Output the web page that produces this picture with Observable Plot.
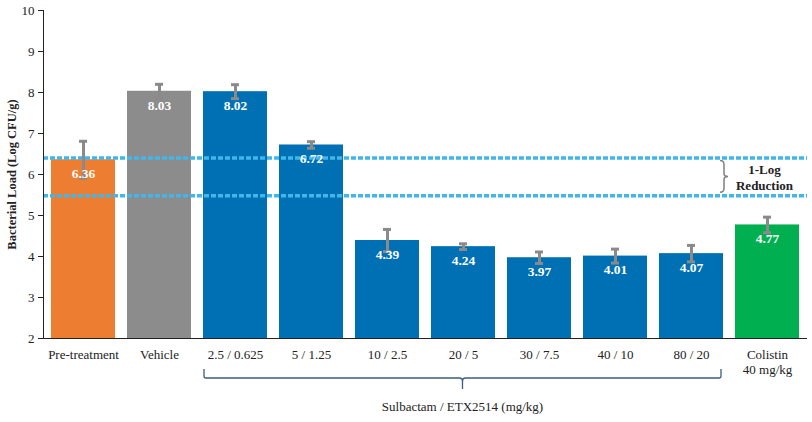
<!DOCTYPE html>
<html><head><meta charset="utf-8">
<script src="https://cdn.jsdelivr.net/npm/d3@7"></script>
<script src="https://cdn.jsdelivr.net/npm/@observablehq/plot@0.6"></script>
<style>body{margin:0;background:#fff} svg text{font-family:'Liberation Serif','Times New Roman',serif;}</style>
</head><body><div id="chart"></div>
<script>
const categories = ["Pre-treatment","Vehicle","2.5 / 0.625","5 / 1.25","10 / 2.5","20 / 5","30 / 7.5","40 / 10","80 / 20","Colistin\n40 mg/kg"];
const values = [6.36, 8.03, 8.02, 6.72, 4.39, 4.24, 3.97, 4.01, 4.07, 4.77];
const errors = [0.45, 0.17, 0.17, 0.08, 0.27, 0.07, 0.14, 0.17, 0.20, 0.19];
const groups = ["Pre-treatment","Vehicle","Combo","Combo","Combo","Combo","Combo","Combo","Combo","Colistin"];
const groupNames = ["Pre-treatment","Vehicle","Combo","Colistin"];
const groupColors = ["#ED7D31","#8C8C8C","#0070B4","#00B050"];
const yTicks = [2,3,4,5,6,7,8,9,10];
const reductionLines = [6.40, 5.48];
const reductionLabel = "1-Log\nReduction";
const bracketLabel = "Sulbactam / ETX2514 (mg/kg)";
const bracketFrom = "2.5 / 0.625", bracketTo = "80 / 20";
const yLabel = "Bacterial Load (Log CFU/g)";

const data = categories.map((c, i) => ({cat: c, v: values[i], e: errors[i], g: groups[i]}));
const font = "'Liberation Serif', 'Times New Roman', serif";

function rightBracket(index, scales, vals, dims) {
  const x = scales.x, y = scales.y;
  const bw = x.bandwidth ? x.bandwidth() : 64;
  const x0 = x(bracketTo) + bw - 3;
  const y0 = y(reductionLines[0]) + 3, y1 = y(reductionLines[1]) - 3, ym = (y0 + y1) / 2;
  const p = `M${x0},${y0} Q${x0+4},${y0} ${x0+4},${y0+4} L${x0+4},${ym-3} Q${x0+4},${ym} ${x0+8},${ym} Q${x0+4},${ym} ${x0+4},${ym+3} L${x0+4},${y1-4} Q${x0+4},${y1} ${x0},${y1}`;
  return d3.create("svg:path").attr("d", p).attr("fill", "none").attr("stroke", "#7f7f7f").attr("stroke-width", 1.5).node();
}

function bottomBracket(index, scales, vals, dims) {
  const x = scales.x;
  const bw = x.bandwidth ? x.bandwidth() : 64;
  const xa = x(bracketFrom) + 1, xb = x(bracketTo) + bw - 2, xm = (xa + xb) / 2;
  const yb = dims.height - dims.marginBottom;
  const top = yb + 31, bot = yb + 40;
  const g = d3.create("svg:g");
  g.append("path")
    .attr("d", `M${xa},${top} L${xa},${bot-2} Q${xa},${bot} ${xa+2},${bot} L${xm-3},${bot} Q${xm},${bot} ${xm},${bot+3} L${xm},${bot+11} M${xm},${bot+3} Q${xm},${bot} ${xm+3},${bot} L${xb-2},${bot} Q${xb},${bot} ${xb},${bot-2} L${xb},${top}`)
    .attr("fill", "none").attr("stroke", "#3A5F7F").attr("stroke-width", 1.3);
  g.append("text").attr("x", xm).attr("y", bot + 33).attr("text-anchor", "middle")
    .attr("font-family", font).attr("font-size", 13).attr("fill", "#222").text(bracketLabel);
  return g.node();
}

const plot = Plot.plot({
  width: 812,
  height: 422,
  marginTop: 10,
  marginBottom: 84,
  marginLeft: 43,
  marginRight: 5,
  style: {fontFamily: font, background: "#fff"},
  x: {domain: categories, paddingInner: 0.16, paddingOuter: 0.1},
  y: {domain: [2, 10]},
  color: {domain: groupNames, range: groupColors},
  marks: [
    Plot.barY(data, {x: "cat", y1: 2, y2: "v", fill: "g"}),
    Plot.ruleY(reductionLines, {stroke: "#40B7E8", strokeWidth: 3.5, strokeDasharray: "5,2"}),
    Plot.ruleX(data, {x: "cat", y1: d => d.v - d.e, y2: d => d.v + d.e, stroke: "#8a8a8a", strokeWidth: 3}),
    Plot.tickY(data, {x: "cat", y: d => d.v + d.e, stroke: "#8a8a8a", strokeWidth: 3, insetLeft: 28, insetRight: 28}),
    Plot.tickY(data, {x: "cat", y: d => d.v - d.e, stroke: "#8a8a8a", strokeWidth: 3, insetLeft: 28, insetRight: 28}),
    Plot.text(data, {x: "cat", y: "v", text: d => d.v.toFixed(2), dy: 14, fill: "white", fontWeight: "bold", fontSize: 13.5, lineAnchor: "middle"}),
    Plot.frame({anchor: "left", stroke: "#222"}),
    Plot.ruleY([2], {stroke: "#222"}),
    Plot.axisY({ticks: yTicks, tickSize: 5, fontSize: 13, tickPadding: 4, label: yLabel, labelAnchor: "center", labelArrow: "none", labelOffset: 36, color: "#222"}),
    Plot.axisX({tickSize: 0, fontSize: 13, tickPadding: 9, label: null, color: "#222", lineHeight: 1.2}),
    Plot.text([reductionLabel], {x: () => categories[9], y: () => (reductionLines[0] + reductionLines[1]) / 2, text: d => d, fontWeight: "bold", fontSize: 13, fill: "#222", dx: -3, lineAnchor: "middle", lineHeight: 1.2}),
    rightBracket,
    bottomBracket
  ]
});
plot.querySelectorAll("g[aria-label='y-axis label'], g[aria-label='y-axis label'] text").forEach(e => { e.setAttribute("font-weight", "bold"); e.style.fontWeight = "bold"; e.setAttribute("font-size", "12.5"); });
document.getElementById("chart").appendChild(plot);
</script>
</body></html>
